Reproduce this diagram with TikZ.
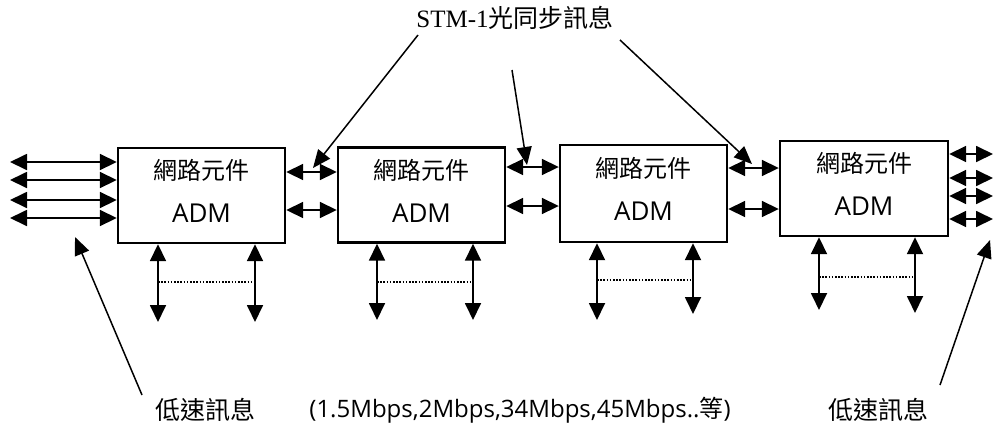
\documentclass[tikz,border=0pt]{standalone}
\usepackage{fontspec}
\setmainfont{Open Sans}
\newfontfamily\cjk{Noto Sans CJK TC}
\newfontfamily\serifA{Liberation Serif}
\usetikzlibrary{arrows.meta}
\begin{document}
\begin{tikzpicture}[x=1pt,y=-1pt,
 box/.style={draw,line width=2.4pt,minimum width=167pt,minimum height=95pt,inner sep=0pt},
 dbl/.style={{Triangle[length=17pt,width=16pt]}-{Triangle[length=17pt,width=16pt]},line width=1.8pt},
 ptr/.style={-{Triangle[length=18pt,width=15pt]},line width=1.5pt},
 dots/.style={dash pattern=on 1.6pt off 1.6pt,line width=2pt},
 cjktext/.style={font=\cjk\fontsize{24}{26}\selectfont,inner sep=0pt},
 admtext/.style={font=\fontsize{26}{28}\selectfont,inner sep=0pt},
 lbl/.style={font=\cjk\fontsize{25}{28}\selectfont,inner sep=0pt}]
\useasboundingbox (0,0) rectangle (995,432);

% boxes
\node[box] (b1) at (201.5,195.5) {};
\node[box] (b2) at (421.5,195) {};
\node[box,minimum height=97pt] (b3) at (643.5,193.5) {};
\node[box,minimum width=168pt] (b4) at (864,188.5) {};
\foreach \b in {b1,b2,b3,b4}{
  \node[cjktext] (\b t) at ([yshift=25pt]\b.center) {網路元件};
  \node[admtext] (\b a) at ([yshift=-18pt]\b.center) {ADM};
}

% left low-speed arrows
\foreach \y [count=\i] in {162,180,200,218}{
  \coordinate (L\i) at (10,\y);
  \draw[dbl] (L\i) -- (b1.west |- L\i);
}
% right low-speed arrows
\foreach \y [count=\i] in {154,178,196,219}{
  \coordinate (R\i) at (993,\y);
  \draw[dbl] (b4.east |- R\i) -- (R\i);
}

% STM-1 links between boxes
\draw[dbl] (b1.east |- 0,172) -- (b2.west |- 0,172);
\draw[dbl] (b1.east |- 0,210) -- (b2.west |- 0,210);
\draw[dbl] (b2.east |- 0,167) -- (b3.west |- 0,167);
\draw[dbl] (b2.east |- 0,206) -- (b3.west |- 0,206);
\draw[dbl] (b3.east |- 0,168) -- (b4.west |- 0,168);
\draw[dbl] (b3.east |- 0,209) -- (b4.west |- 0,209);

% tributary arrows below boxes
\foreach \b/\xa/\xb/\ya/\yb/\yd in {b1/158/255/322/322/282, b2/377/473/320/320/282, b3/597/693/320/314/280, b4/819/915/310/313/277}{
  \coordinate (\b va) at (\xa,\ya);
  \coordinate (\b vb) at (\xb,\yb);
  \draw[dbl] (\b.south -| \b va) -- (\b va);
  \draw[dbl] (\b.south -| \b vb) -- (\b vb);
  \draw[dots] (\xa,\yd) -- (\xb,\yd);
}

% STM-1 label and pointers
\node[lbl] (stm) at (515,18) {{\serifA STM-1}光同步訊息};
\coordinate (s1) at (418,35);
\coordinate (s2) at (512,70);
\coordinate (s3) at (620,40);
\coordinate (s1t) at (313,168);
\coordinate (s2t) at (527,165);
\coordinate (s3t) at (752,164);
\draw[ptr] (s1) -- (s1t);
\draw[ptr] (s2) -- (s2t);
\draw[ptr] (s3) -- (s3t);

% low-speed labels
\node[lbl] (lowL) at (205,410) {低速訊息};
\node[lbl] (lowR) at (878,410) {低速訊息};
\coordinate (p1) at (142,395);
\coordinate (p1t) at (75,237);
\coordinate (p2) at (940,385);
\coordinate (p2t) at (990,240);
\draw[ptr] (p1) -- (p1t);
\draw[ptr] (p2) -- (p2t);

% rates
\node[inner sep=0pt,font=\fontsize{24}{26}\selectfont] (rates) at (520,410) {(1.5Mbps,2Mbps,34Mbps,45Mbps..{\cjk 等})};
\end{tikzpicture}
\end{document}
